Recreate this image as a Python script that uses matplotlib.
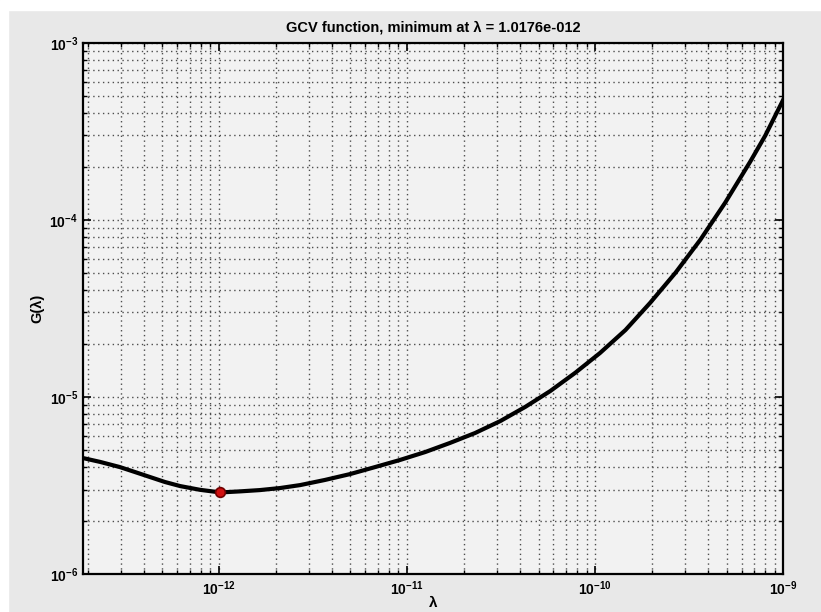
import matplotlib
matplotlib.use('Agg')
import matplotlib.pyplot as plt
from matplotlib.patches import Rectangle
import numpy as np

plt.rcParams['font.family'] = ['Liberation Sans', 'DejaVu Sans']
plt.rcParams['font.weight'] = 'bold'

# values
lam = [1.89e-13, 2.33e-13, 2.97e-13, 3.57e-13, 4.30e-13, 5.16e-13, 6.21e-13,
       7.93e-13, 1.0176e-12, 1.29e-12, 1.65e-12, 2.11e-12, 2.70e-12, 3.66e-12,
       4.98e-12, 6.76e-12, 9.18e-12, 1.25e-11, 1.69e-11, 2.30e-11, 3.13e-11,
       4.25e-11, 5.77e-11, 7.84e-11, 1.06e-10, 1.45e-10, 1.96e-10, 2.67e-10,
       3.62e-10, 4.91e-10, 6.67e-10, 8.02e-10, 1.0e-9]
G = [4.52e-6, 4.30e-6, 4.02e-6, 3.77e-6, 3.53e-6, 3.31e-6, 3.14e-6,
     2.99e-6, 2.89e-6, 2.93e-6, 2.98e-6, 3.06e-6, 3.18e-6, 3.40e-6,
     3.67e-6, 4.02e-6, 4.41e-6, 4.89e-6, 5.50e-6, 6.26e-6, 7.31e-6,
     8.79e-6, 1.08e-5, 1.37e-5, 1.77e-5, 2.39e-5, 3.40e-5, 5.02e-5,
     7.71e-5, 1.25e-4, 2.13e-4, 2.99e-4, 4.77e-4]
lam_min = 1.0176e-12
G_min = 2.89e-6

fig = plt.figure(figsize=(8.21, 6.12), dpi=100, facecolor='#e8e8e8')
fig.patches.append(Rectangle((0, 0.984), 1, 0.016, transform=fig.transFigure,
                             color='white', zorder=-1))
fig.patches.append(Rectangle((0, 0), 0.01, 1, transform=fig.transFigure,
                             color='white', zorder=-1))
ax = fig.add_axes([0.101, 0.062, 0.853, 0.868])
ax.set_facecolor('#f2f2f2')

ax.loglog(lam, G, color='black', lw=3, solid_joinstyle='round')
ax.plot(lam_min, G_min, 'o', ms=7, mfc='#d01010', mec='#700000', mew=1.2)

ax.set_xlim(1.89e-13, 1e-9)
ax.set_ylim(1e-6, 1e-3)
ax.grid(True, which='both', ls=(0, (1, 2.5)), color='0.3', lw=1.0)
ax.tick_params(which='both', direction='in', top=True, right=True, labelsize=10)
ax.tick_params(which='major', length=6, width=1.2)
ax.tick_params(which='minor', length=3, width=1)
for s in ax.spines.values():
    s.set_linewidth(1.6)

ax.set_title('GCV function, minimum at λ = 1.0176e-012', fontsize=10.5,
             fontweight='bold', pad=8)
ax.set_xlabel('λ', fontsize=11, fontweight='bold', labelpad=-1)
ax.set_ylabel('G(λ)', fontsize=10.5, fontweight='bold')

fig.savefig('out.png', dpi=100, facecolor=fig.get_facecolor())
